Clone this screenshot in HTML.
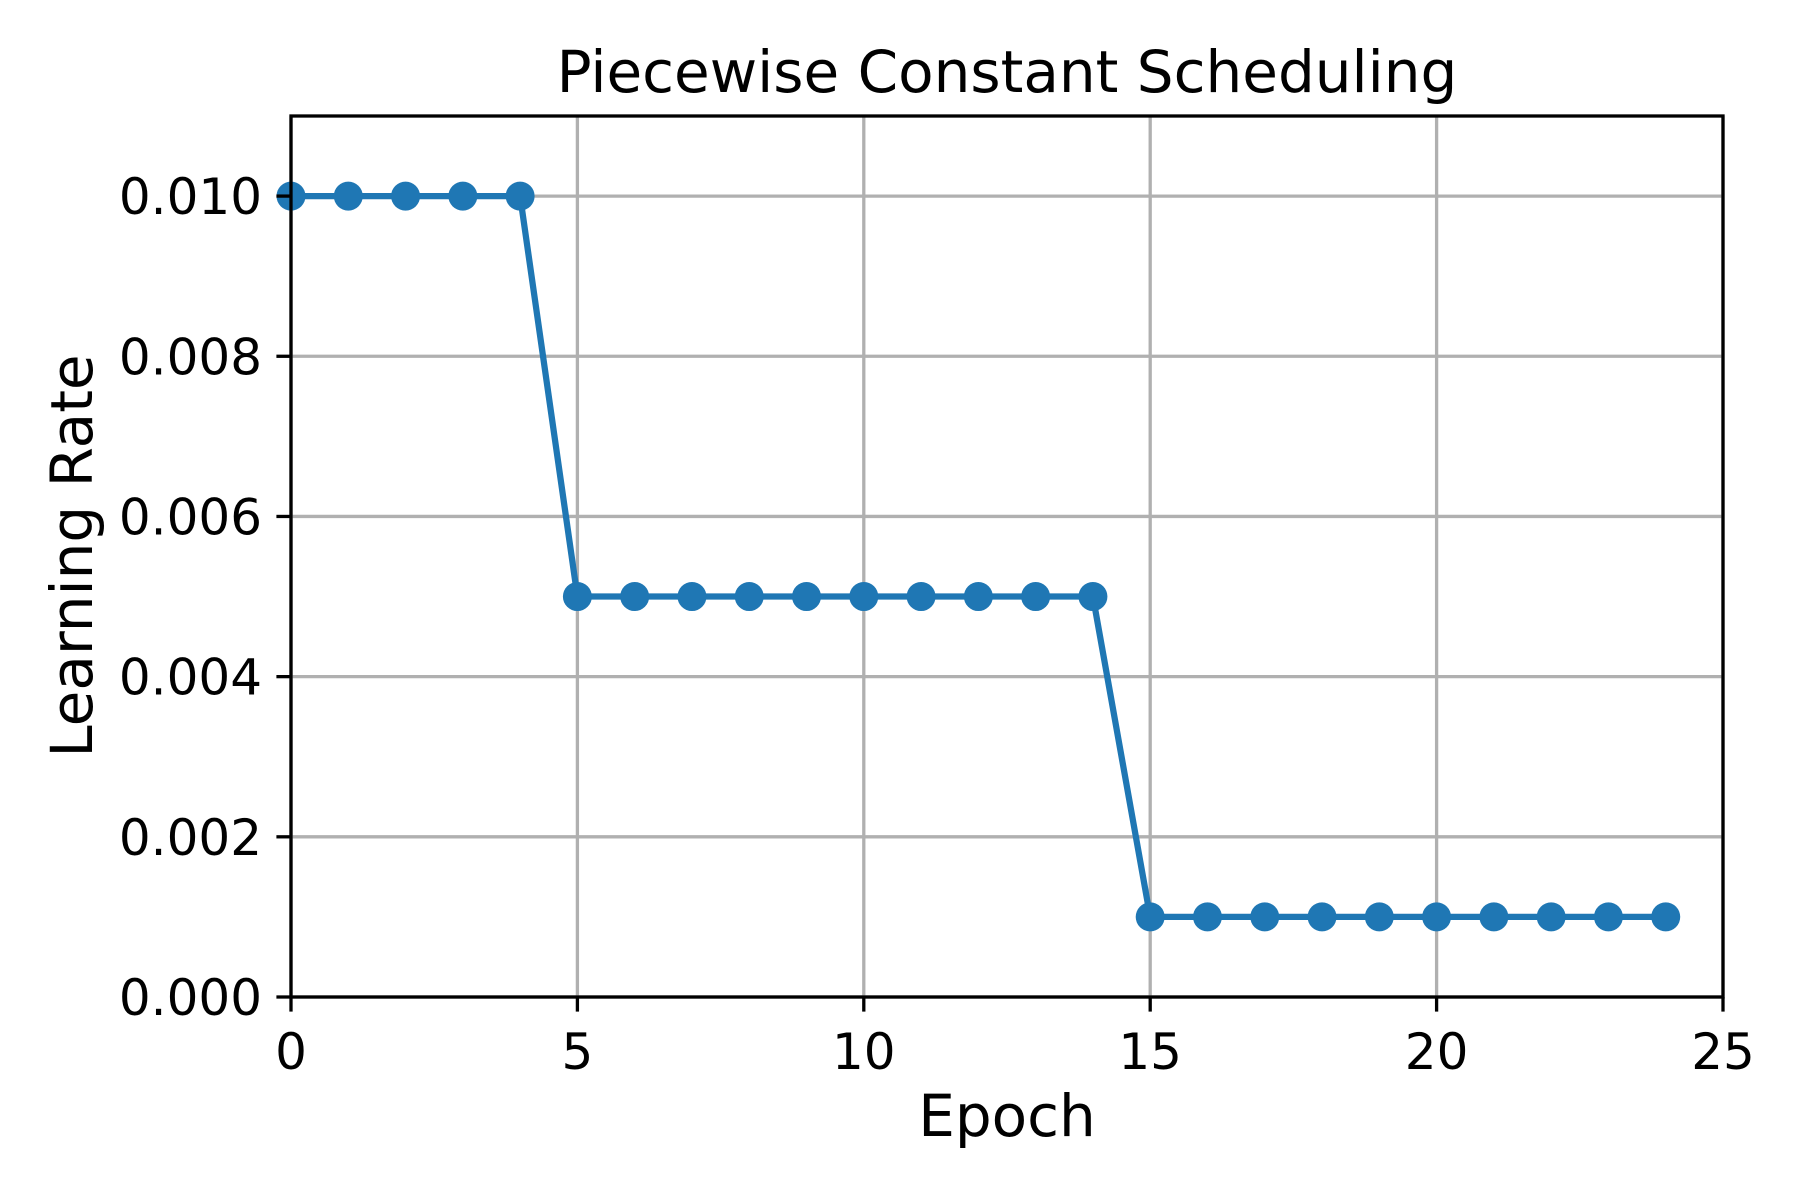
<!DOCTYPE html>
<html><head><meta charset="utf-8"><style>
html,body{margin:0;padding:0;background:#fff;}
svg{display:block;font-family:"DejaVu Sans","Liberation Sans",sans-serif;}
</style></head><body>
<svg id="chart" width="1800" height="1200" viewBox="0 0 1800 1200">
<rect width="1800" height="1200" fill="#fff"/>
<g id="grid"></g>
<g id="series"></g>
<rect x="291" y="116" width="1432" height="881" fill="none" stroke="#000" stroke-width="3.3"/>
<g id="ticks"></g>
<text x="1007" y="92" font-size="58" text-anchor="middle">Piecewise Constant Scheduling</text>
<text x="1007" y="1136" font-size="58" text-anchor="middle">Epoch</text>
<text x="0" y="0" font-size="58" text-anchor="middle" transform="translate(92,556) rotate(-90)">Learning Rate</text>
</svg>
<script>
const epochs = [0,1,2,3,4,5,6,7,8,9,10,11,12,13,14,15,16,17,18,19,20,21,22,23,24];
const learningRates = [0.01,0.01,0.01,0.01,0.01,0.005,0.005,0.005,0.005,0.005,0.005,0.005,0.005,0.005,0.005,0.001,0.001,0.001,0.001,0.001,0.001,0.001,0.001,0.001,0.001];
const xTicks = [0,5,10,15,20,25];
const yTicks = [0,0.002,0.004,0.006,0.008,0.010];
const yTickLabels = ["0.000","0.002","0.004","0.006","0.008","0.010"];

const L=291,R=1723,T=116,B=997,XMIN=0,XMAX=25,YMIN=0,YMAX=0.011;
function xs(v){return L+(v-XMIN)/(XMAX-XMIN)*(R-L);}
function ys(v){return B-(v-YMIN)/(YMAX-YMIN)*(B-T);}
const NS="http://www.w3.org/2000/svg";
function mk(tag,attrs,parent){const e=document.createElementNS(NS,tag);for(const k in attrs)e.setAttribute(k,attrs[k]);parent.appendChild(e);return e;}
const grid=document.getElementById('grid'),ticks=document.getElementById('ticks'),series=document.getElementById('series');

xTicks.forEach(v=>{
  const x=xs(v);
  const g=mk('line',{x1:x,x2:x,y1:T,y2:B,stroke:'#b0b0b0','stroke-width':3.3},grid);
  
  
  const t=mk('line',{x1:x,x2:x,y1:B,y2:B+14.6,stroke:'#000','stroke-width':3.3},ticks);
  
  
  const l=mk('text',{x:x,y:B+72,'font-size':50,'text-anchor':'middle'},ticks);
  l.textContent=String(v);
  
  
});
yTicks.forEach((v,i)=>{
  const y=ys(v);
  const g=mk('line',{x1:L,x2:R,y1:y,y2:y,stroke:'#b0b0b0','stroke-width':3.3},grid);
  
  
  const t=mk('line',{x1:L-14.6,x2:L,y1:y,y2:y,stroke:'#000','stroke-width':3.3},ticks);
  
  
  const l=mk('text',{x:L-29,y:y+18,'font-size':50,'text-anchor':'end'},ticks);
  l.textContent=yTickLabels[i];
  
  
});
const pts=epochs.map((e,i)=>xs(e)+','+ys(learningRates[i])).join(' ');
const pl=mk('polyline',{points:pts,fill:'none',stroke:'#1f77b4','stroke-width':6.25,'stroke-linejoin':'round'},series);


epochs.forEach((e,i)=>{
  const c=mk('circle',{cx:xs(e),cy:ys(learningRates[i]),r:14.5,fill:'#1f77b4'},series);
  
  
});
</script>
</body></html>
